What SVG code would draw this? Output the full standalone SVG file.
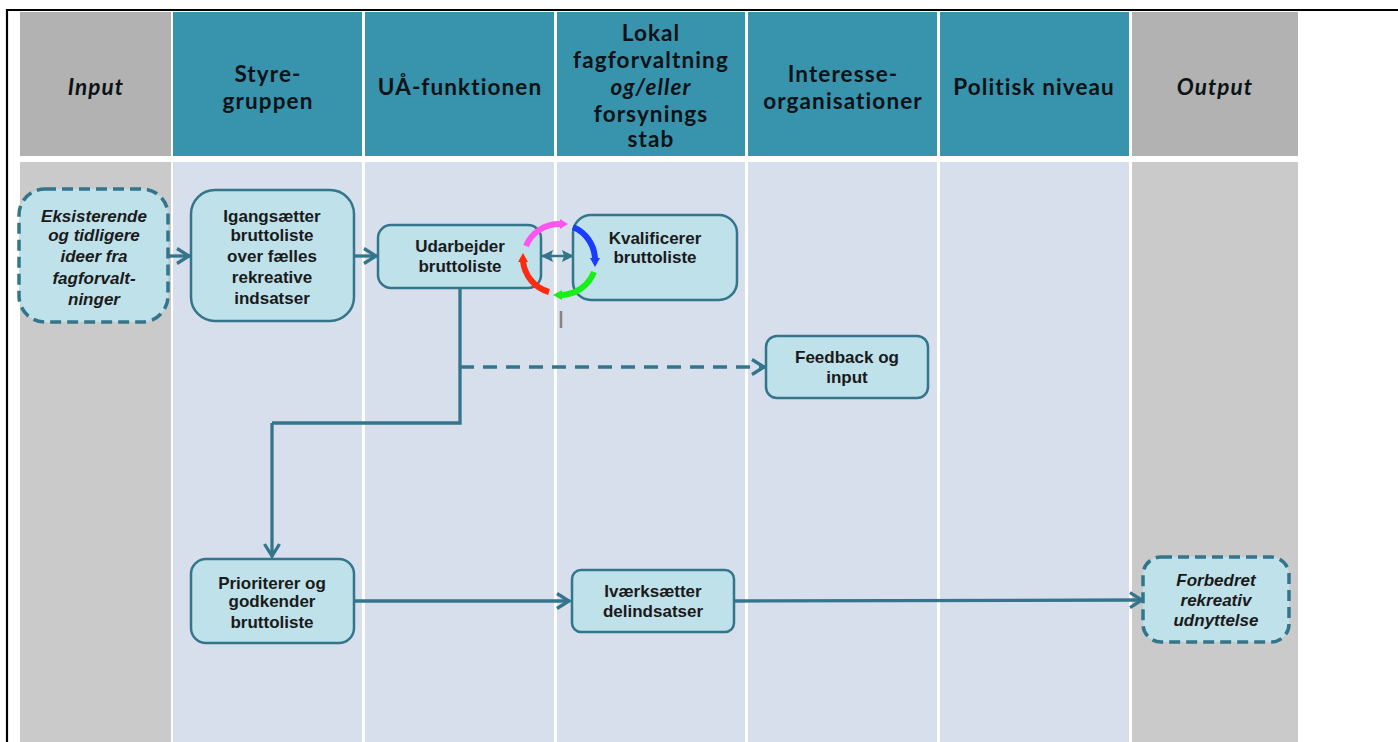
<svg xmlns="http://www.w3.org/2000/svg" width="1398" height="742" viewBox="0 0 1398 742">
<style>
.h{font-family:Lato,"Open Sans","DejaVu Sans",sans-serif;font-weight:700;font-size:22.5px;letter-spacing:1.1px;fill:#0c1216;text-anchor:middle}
.t{font-family:"Liberation Sans",Arial,sans-serif;font-weight:700;font-size:17px;fill:#1a1a1a;text-anchor:middle}
.i{font-style:italic}
.n{fill:#bfe1ea;stroke:#33758a;stroke-width:2.500}
.d{fill:#bfe1ea;stroke:#33758a;stroke-width:3.500;stroke-dasharray:11 6}
.c{fill:none;stroke:#33758a;stroke-width:3.300}
.r{fill:none;stroke-width:6}
</style>
<defs>
<marker id="a" markerUnits="userSpaceOnUse" markerWidth="18" markerHeight="20" refX="16" refY="10" orient="auto-start-reverse"><path d="M3 2.500L15 10L3 17.500" fill="none" stroke="#33758a" stroke-width="3.300"/></marker>
<marker id="s" markerUnits="userSpaceOnUse" markerWidth="14" markerHeight="14" refX="12" refY="7" orient="auto-start-reverse"><path d="M1 1L13 7L1 13L3 7Z" fill="#33758a"/></marker>
</defs>
<rect width="1398" height="742" fill="#fff"/>
<path d="M7 742V10H1398" fill="none" stroke="#000" stroke-width="2.200"/>
<g id="lanes">
<rect x="20" y="12" width="151" height="144" fill="#b2b2b2"/>
<rect x="173" y="12" width="189" height="144" fill="#3893ad"/>
<rect x="365" y="12" width="189" height="144" fill="#3893ad"/>
<rect x="557" y="12" width="188" height="144" fill="#3893ad"/>
<rect x="748" y="12" width="189" height="144" fill="#3893ad"/>
<rect x="940" y="12" width="189" height="144" fill="#3893ad"/>
<rect x="1132" y="12" width="166" height="144" fill="#b2b2b2"/>
<rect x="20" y="162" width="151" height="580" fill="#cacaca"/>
<rect x="173" y="162" width="189" height="580" fill="#d8dfec"/>
<rect x="365" y="162" width="189" height="580" fill="#d8dfec"/>
<rect x="557" y="162" width="188" height="580" fill="#d8dfec"/>
<rect x="748" y="162" width="189" height="580" fill="#d8dfec"/>
<rect x="940" y="162" width="189" height="580" fill="#d8dfec"/>
<rect x="1132" y="162" width="166" height="580" fill="#cacaca"/>
<text class="h i" x="96" y="95">Input</text>
<text class="h" x="268" y="82">Styre-</text><text class="h" x="268" y="109">gruppen</text>
<text class="h" x="460" y="95">UÅ-funktionen</text>
<text class="h" x="651" y="41">Lokal</text><text class="h" x="651" y="68">fagforvaltning</text><text class="h i" x="651" y="95">og/eller</text><text class="h" x="651" y="122">forsynings</text><text class="h" x="651" y="147">stab</text>
<text class="h" x="843" y="82">Interesse-</text><text class="h" x="843" y="109">organisationer</text>
<text class="h" x="1034" y="95">Politisk niveau</text>
<text class="h i" x="1215" y="95">Output</text>
</g>
<g id="connectors">
<path class="c" marker-end="url(#a)" d="M166 256H190"/>
<path class="c" marker-end="url(#a)" d="M354 256H377"/>
<path class="c" d="M460 288V423H272"/>
<path class="c" marker-end="url(#a)" d="M272 423V557"/>
<path class="c" marker-end="url(#a)" stroke-dasharray="14 9" d="M460 367H765"/>
<path class="c" marker-end="url(#a)" d="M354 601H570"/>
<path class="c" marker-end="url(#a)" d="M735 601L1143 600"/>
<path d="M542 256H573" fill="none" stroke="#33758a" stroke-width="2.500" marker-start="url(#s)" marker-end="url(#s)"/>
<path d="M561 311V328" fill="none" stroke="#858585" stroke-width="2.600"/>
</g>
<g id="n1"><rect class="d" x="19" y="189" width="149" height="133" rx="26"/>
<g class="t i"><text x="94" y="222">Eksisterende</text><text x="94" y="241">og tidligere</text><text x="94" y="262">ideer fra</text><text x="94" y="284">fagforvalt-</text><text x="94" y="305">ninger</text></g></g>
<g id="n2"><rect class="n" x="191" y="190" width="163" height="131" rx="24"/>
<g class="t"><text x="272" y="222">Igangsætter</text><text x="272" y="241">bruttoliste</text><text x="272" y="262">over fælles</text><text x="272" y="283">rekreative</text><text x="272" y="304">indsatser</text></g></g>
<g id="n3"><rect class="n" x="378" y="225" width="163" height="63" rx="13"/>
<g class="t"><text x="460" y="252">Udarbejder</text><text x="460" y="272">bruttoliste</text></g></g>
<g id="n4"><rect class="n" x="573" y="215" width="164" height="85" rx="18"/>
<g class="t"><text x="655" y="244">Kvalificerer</text><text x="655" y="263">bruttoliste</text></g></g>
<g id="n5"><rect class="n" x="766" y="336" width="162" height="62" rx="11"/>
<g class="t"><text x="847" y="363">Feedback og</text><text x="847" y="383">input</text></g></g>
<g id="n6"><rect class="n" x="191" y="559" width="163" height="84" rx="15"/>
<g class="t"><text x="272" y="589">Prioriterer og</text><text x="272" y="607">godkender</text><text x="272" y="628">bruttoliste</text></g></g>
<g id="n7"><rect class="n" x="572" y="570" width="162" height="62" rx="9"/>
<g class="t"><text x="653" y="597">Iværksætter</text><text x="653" y="617">delindsatser</text></g></g>
<g id="n8"><rect class="d" x="1143" y="557" width="146" height="85" rx="18"/>
<g class="t i"><text x="1216" y="586">Forbedret</text><text x="1216" y="606">rekreativ</text><text x="1216" y="626">udnyttelse</text></g></g>
<g id="cycle">
<path class="r" stroke="#ff55f0" d="M526 246A36 36 0 0 1 561 224"/><path d="M560 219L568 224L560 229Z" fill="#ff55f0"/>
<path class="r" stroke="#1a3cff" d="M573 227A36 36 0 0 1 595 259"/><path d="M590 258L595 267L600 258Z" fill="#1a3cff"/>
<path class="r" stroke="#18ee18" d="M594 272A36 36 0 0 1 561 295"/><path d="M562 290L553 295L562 300Z" fill="#18ee18"/>
<path class="r" stroke="#ff2a10" d="M549 292A36 36 0 0 1 523 261"/><path d="M518 262L523 253L528 262Z" fill="#ff2a10"/>
</g>
</svg>
